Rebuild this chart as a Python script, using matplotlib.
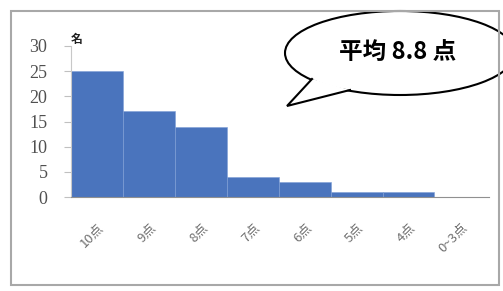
import matplotlib
matplotlib.use('Agg')
import matplotlib.pyplot as plt
from matplotlib.patches import Ellipse, Polygon, Rectangle

labels = ['10点', '9点', '8点', '7点', '6点', '5点', '4点', '0~3点']
counts = [25, 17, 14, 4, 3, 1, 1, 0]
yticks = [0, 5, 10, 15, 20, 25, 30]
W, H = 503, 291

plt.rcParams['font.family'] = ['Noto Sans CJK JP', 'DejaVu Sans']

fig = plt.figure(figsize=(W / 100, H / 100), dpi=100)
fig.patch.set_facecolor('white')

# outer frame
fig.add_artist(Rectangle((11 / W, 1 - 285 / H), 488 / W, 274 / H,
                         transform=fig.transFigure, fill=False,
                         edgecolor='#a8a8a8', lw=1.5))

ax = fig.add_axes([71 / W, 1 - 197 / H, 418 / W, 151 / H])
ax.bar(range(len(counts)), counts, width=1.0, color='#4a74bd',
       edgecolor='#7f9fd6', linewidth=0.4)
ax.set_xlim(-0.5, 7.55)
ax.set_ylim(0, 30)
ax.set_yticks(yticks)
ax.set_yticklabels([str(v) for v in yticks], family='Liberation Serif',
                   fontsize=13, color='#505050')
ax.set_xticks(range(len(labels)))
ax.set_xticklabels(labels, rotation=45, ha='right', va='top',
                   rotation_mode='anchor', fontsize=9.5, color='#707070')
ax.tick_params(axis='x', length=0, pad=17)
ax.tick_params(axis='y', length=5, color='#c0c0c0', pad=12)
for s in ['top', 'right']:
    ax.spines[s].set_visible(False)
ax.spines['left'].set_color('#c8c8c8')
ax.spines['bottom'].set_color('#909090')
ax.text(-0.4, 31.3, '名', fontsize=8.5, fontweight='bold', color='#202020',
        ha='center', va='center')

# speech bubble overlay
ov = fig.add_axes([0, 0, 1, 1])
ov.set_xlim(0, W)
ov.set_ylim(H, 0)
ov.axis('off')
ov.patch.set_alpha(0)
ov.add_patch(Ellipse((400, 53), 230, 84, facecolor='white',
                     edgecolor='black', lw=1.5, clip_on=False))
tail = [(312, 79), (287, 106), (350, 90)]
ov.add_patch(Polygon(tail, closed=True, facecolor='white', edgecolor='none',
                     zorder=3))
ov.plot([p[0] for p in tail], [p[1] for p in tail], color='black', lw=1.5,
        zorder=4, solid_joinstyle='miter')
ov.text(398, 52, '平均 8.8 点', fontsize=17, fontweight='bold',
        ha='center', va='center', zorder=5)

fig.savefig('out.png', dpi=100)
